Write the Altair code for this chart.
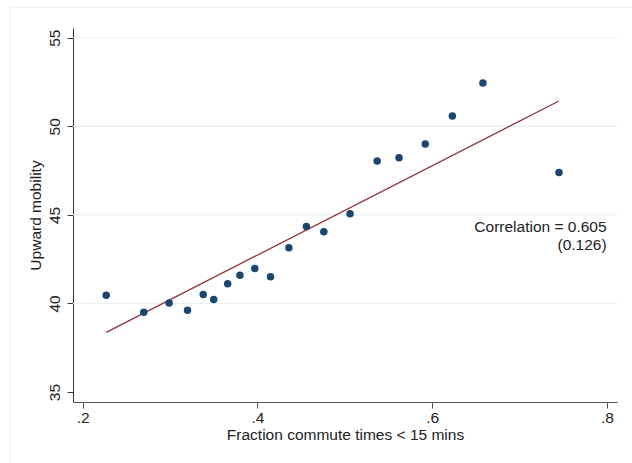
import altair as alt
import pandas as pd

# Binned scatter: fraction commute < 15 mins vs upward mobility
frac_commute = [0.227, 0.270, 0.299, 0.320, 0.338, 0.350, 0.366, 0.380, 0.397, 0.415,
                0.436, 0.456, 0.476, 0.506, 0.537, 0.562, 0.592, 0.623, 0.658, 0.745]
upward_mob = [40.47, 39.51, 40.03, 39.62, 40.51, 40.23, 41.11, 41.59, 41.98, 41.51,
              43.15, 44.34, 44.05, 45.06, 48.04, 48.23, 49.00, 50.58, 52.45, 47.40]

fit_x = [0.227, 0.745]
fit_y = [38.37, 51.43]

x_ticks = [0.2, 0.4, 0.6, 0.8]
y_ticks = [35, 40, 45, 50, 55]
grid_y = [40, 45, 50, 55]

annot_lines = ["Correlation = 0.605", "(0.126)"]
annot_y = [44.31, 43.30]

FONT = "Liberation Sans"
FS = 15.5

pts = pd.DataFrame({"x": frac_commute, "y": upward_mob})
fit = pd.DataFrame({"x": fit_x, "y": fit_y})
grid = pd.DataFrame({"y": grid_y})
ann = pd.DataFrame({"t": annot_lines, "y": annot_y, "x": [0.7995, 0.7995]})

xscale = alt.Scale(domain=[0.189, 0.8114], nice=False, zero=False)
yscale = alt.Scale(domain=[34.44, 55.55], nice=False, zero=False)

xaxis = alt.Axis(
    values=x_ticks,
    labelExpr="replace(format(datum.value, '.1f'), '0.', '.')",
    grid=False, domainColor="#555555", tickColor="#555555", tickSize=6,
    labelFont=FONT, labelFontSize=FS, labelColor="#222222", labelPadding=2,
    title="Fraction commute times < 15 mins", titleFont=FONT, titleFontSize=FS,
    titleFontWeight="normal", titleColor="#222222", titlePadding=2,
)
yaxis = alt.Axis(
    values=y_ticks, format="d",
    grid=False, domainColor="#333333", tickColor="#333333", tickSize=6,
    labelAngle=270, labelAlign="center", labelBaseline="bottom",
    labelFont=FONT, labelFontSize=FS, labelColor="#222222", labelPadding=5,
    title="Upward mobility", titleFont=FONT, titleFontSize=FS,
    titleFontWeight="normal", titleColor="#222222", titlePadding=4,
)

frame = alt.Chart(pd.DataFrame({"k": [0]})).mark_rect(
    fill=None, stroke="#e9eef0", strokeWidth=1
).encode(
    x=alt.value(-63), x2=alt.value(565), y=alt.value(-21), y2=alt.value(445)
)

gridlayer = alt.Chart(grid).mark_rule(color="#e8f0f1", strokeWidth=1.2).encode(
    y=alt.Y("y:Q", scale=yscale, axis=yaxis),
)

line = alt.Chart(fit).mark_line(color="#90353b", strokeWidth=1.3).encode(
    x=alt.X("x:Q", scale=xscale, axis=xaxis),
    y=alt.Y("y:Q", scale=yscale),
)

points = alt.Chart(pts).mark_circle(color="#1a476f", opacity=1, size=56).encode(
    x=alt.X("x:Q", scale=xscale),
    y=alt.Y("y:Q", scale=yscale),
)

text = alt.Chart(ann).mark_text(
    align="right", baseline="middle", font=FONT, fontSize=FS, color="#222222"
).encode(
    x=alt.X("x:Q", scale=xscale),
    y=alt.Y("y:Q", scale=yscale),
    text="t:N",
)

chart = alt.layer(frame, gridlayer, line, points, text).properties(
    width=544, height=374,
    padding={"left": 73, "top": 28, "right": 15, "bottom": 61},
    autosize=alt.AutoSizeParams(type="none"),
    background="white",
).configure_view(stroke=None)

chart.save("out.html", embed_options={"renderer": "svg", "actions": False})
